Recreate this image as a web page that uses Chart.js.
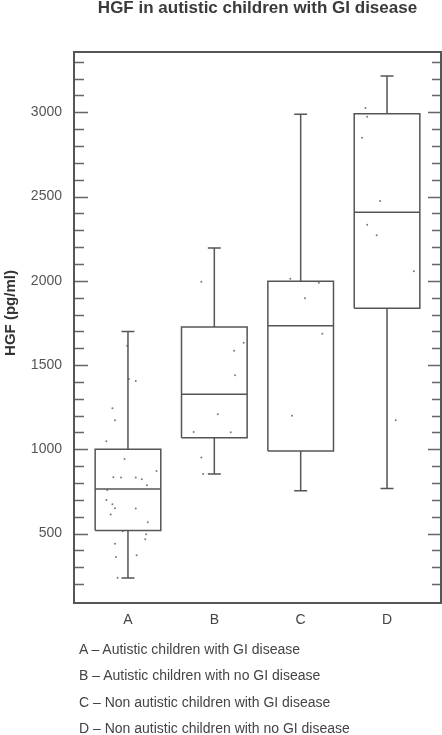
<!DOCTYPE html>
<html>
<head>
<meta charset="utf-8">
<script src="https://cdn.jsdelivr.net/npm/chart.js@4"></script>
<style>
  html, body { margin: 0; padding: 0; background: #fff; }
  #wrap { position: relative; width: 442px; height: 735px; font-family: 'Liberation Sans', Arial, sans-serif; }
  #hgf { position: absolute; left: 0; top: 0; }
  .ylab { position: absolute; left: -90px; top: 303px; width: 200px; height: 20px; line-height: 20px;
          text-align: center; font-weight: bold; font-size: 15px; color: #333; transform: rotate(-90deg); }
  .key { position: absolute; left: 79px; font-size: 14px; color: #444; line-height: 26px; height: 26px; white-space: nowrap; }
</style>
</head>
<body>
<div id="wrap">
  <canvas id="hgf" width="442" height="735"></canvas>
  <div class="ylab">HGF (pg/ml)</div>
  <div id="keyBox"></div>
</div>
<script>
// group summary values (pg/ml)
const groups = ['A', 'B', 'C', 'D'];
const groupNames = [
  'Autistic children with GI disease',
  'Autistic children with no GI disease',
  'Non autistic children with GI disease',
  'Non autistic children with no GI disease'
];
const whiskerLow  = [236, 853, 754, 768];
const q1          = [518, 1069, 990, 1837];
const median      = [764, 1327, 1734, 2407];
const q3          = [1000, 1726, 1998, 2992];
const whiskerHigh = [1700, 2195, 2988, 3216];

// individual children (value, horizontal jitter in category units)
const pointsA = [1615, 1417, 1406, 1244, 1173, 1048, 942, 871, 835, 833, 833, 823, 787, 758, 700, 674, 651, 649, 613, 567, 514, 496, 466, 440, 361, 371, 238];
const jitterA = [-0.01, 0.01, 0.09, -0.18, -0.15, -0.25, -0.04, 0.33, -0.17, -0.08, 0.09, 0.16, 0.22, -0.24, -0.25, -0.18, -0.15, 0.09, -0.2, 0.23, -0.06, 0.21, 0.2, -0.15, -0.14, 0.1, -0.12];
const pointsB = [1994, 1633, 1585, 1440, 1208, 1103, 1101, 952, 853];
const jitterB = [-0.15, 0.34, 0.23, 0.24, 0.04, -0.24, 0.19, -0.15, -0.13];
const pointsC = [2012, 1988, 1896, 1686, 1200];
const jitterC = [-0.12, 0.21, 0.05, 0.25, -0.1];
const pointsD = [3026, 2974, 2849, 2474, 2333, 2271, 2057, 1173];
const jitterD = [-0.25, -0.23, -0.29, -0.08, -0.23, -0.12, 0.31, 0.1];

// y axis
const yMin = 88, yMax = 3358;
const yTickLabels = [500, 1000, 1500, 2000, 2500, 3000];
const yMinorFrom = 200, yMinorTo = 3300, yMinorStep = 100;

const BOX_HALF = 0.38, CAP_HALF = 0.075;
const INK = '#555';
const GAP = { x: null, y: null };

// key under the chart
document.getElementById('keyBox').innerHTML = groups.map((g, i) =>
  `<div class="key" style="top:${636 + i * 26.3}px">${g} \u2013 ${groupNames[i]}</div>`).join('');

const boxPath = [], whiskerPath = [];
groups.forEach((g, i) => {
  const c = i + 1;
  boxPath.push(
    { x: c - BOX_HALF, y: q1[i] }, { x: c + BOX_HALF, y: q1[i] }, { x: c + BOX_HALF, y: q3[i] },
    { x: c - BOX_HALF, y: q3[i] }, { x: c - BOX_HALF, y: q1[i] }, GAP,
    { x: c - BOX_HALF, y: median[i] }, { x: c + BOX_HALF, y: median[i] }, GAP);
  whiskerPath.push(
    { x: c, y: q3[i] }, { x: c, y: whiskerHigh[i] }, GAP,
    { x: c - CAP_HALF, y: whiskerHigh[i] }, { x: c + CAP_HALF, y: whiskerHigh[i] }, GAP,
    { x: c, y: q1[i] }, { x: c, y: whiskerLow[i] }, GAP,
    { x: c - CAP_HALF, y: whiskerLow[i] }, { x: c + CAP_HALF, y: whiskerLow[i] }, GAP);
});

const dots = [];
[[pointsA, jitterA], [pointsB, jitterB], [pointsC, jitterC], [pointsD, jitterD]].forEach(([vals, jit], i) => {
  vals.forEach((v, k) => dots.push({ x: i + 1 + jit[k], y: v }));
});

// frame + inward tick marks on both sides
const framePlugin = {
  id: 'frame',
  afterDatasetsDraw(chart) {
    const { ctx, chartArea: a, scales: { y } } = chart;
    ctx.save();
    ctx.strokeStyle = '#666';
    ctx.lineWidth = 1.5;
    for (let v = yMinorFrom; v <= yMinorTo; v += yMinorStep) {
      const py = Math.round(y.getPixelForValue(v)) + 0.5;
      const major = yTickLabels.includes(v);
      ctx.beginPath();
      ctx.moveTo(a.left, py); ctx.lineTo(a.left + (major ? 14 : 10), py);
      ctx.moveTo(a.right, py); ctx.lineTo(a.right - (major ? 13 : 9), py);
      ctx.stroke();
    }
    ctx.strokeStyle = '#555';
    ctx.lineWidth = 2;
    ctx.strokeRect(a.left, a.top, a.right - a.left, a.bottom - a.top);
    ctx.restore();
  }
};

new Chart(document.getElementById('hgf').getContext('2d'), {
  type: 'scatter',
  data: {
    datasets: [
      { label: 'boxes', data: boxPath, showLine: true, spanGaps: false, pointRadius: 0, borderColor: INK, borderWidth: 1.5, borderJoinStyle: 'miter' },
      { label: 'whiskers', data: whiskerPath, showLine: true, spanGaps: false, pointRadius: 0, borderColor: INK, borderWidth: 1.5 },
      { label: 'children', data: dots, pointRadius: 1, pointBorderWidth: 0, pointBackgroundColor: '#7a7a7a' }
    ]
  },
  options: {
    responsive: false,
    animation: false,
    layout: { autoPadding: false, padding: { right: 1 } },
    plugins: {
      legend: { display: false },
      tooltip: { enabled: false },
      title: {
        display: true, fullSize: false,
        text: 'HGF in autistic children with GI disease',
        color: '#3a3a3a',
        font: { family: 'Liberation Sans', size: 17, weight: 'bold', lineHeight: 1 },
        padding: { top: 0, bottom: 35 }
      }
    },
    scales: {
      x: {
        type: 'linear', min: 0.375, max: 4.625,
        grid: { display: false, drawTicks: false }, border: { display: false },
        afterBuildTicks: (s) => { s.ticks = groups.map((g, i) => ({ value: i + 1 })); },
        afterFit: (s) => { s.height = 132; },
        ticks: { padding: 9, color: '#444', font: { family: 'Liberation Sans', size: 14 },
                 callback: (v) => groups[v - 1] }
      },
      y: {
        min: yMin, max: yMax,
        grid: { display: false, drawTicks: false }, border: { display: false },
        afterBuildTicks: (s) => { s.ticks = yTickLabels.map((v) => ({ value: v })); },
        afterFit: (s) => { s.width = 74; },
        ticks: { padding: 12, color: '#555', font: { family: 'Liberation Sans', size: 14 },
                 callback: (v) => String(v) }
      }
    }
  },
  plugins: [framePlugin]
});
</script>
</body>
</html>
